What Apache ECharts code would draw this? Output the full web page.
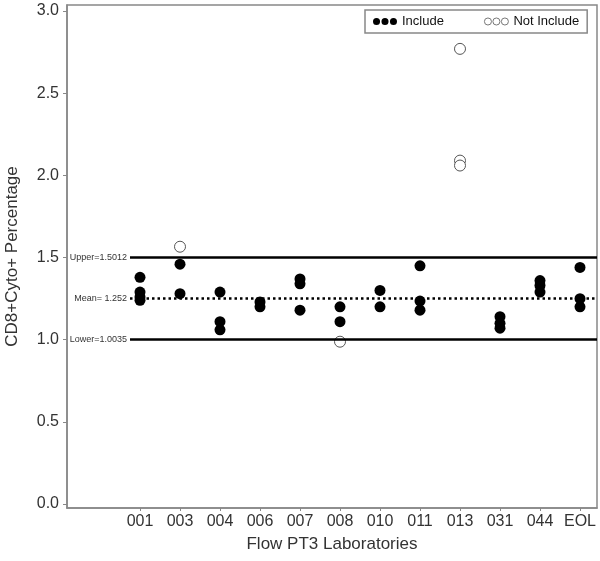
<!DOCTYPE html>
<html>
<head>
<meta charset="utf-8">
<script src="https://cdn.jsdelivr.net/npm/echarts@6/dist/echarts.min.js"></script>
<style>html,body{margin:0;padding:0;background:#fff}#c{width:600px;height:561px}</style>
</head>
<body>
<div id="c"></div>
<script>
var labs = ['001','003','004','006','007','008','010','011','013','031','044','EOL'];
var includeValues = [
  [1.38, 1.29, 1.26, 1.24],
  [1.46, 1.28],
  [1.29, 1.11, 1.06],
  [1.23, 1.20],
  [1.37, 1.34, 1.18],
  [1.20, 1.11],
  [1.30, 1.20],
  [1.45, 1.235, 1.18],
  [],
  [1.14, 1.10, 1.07],
  [1.36, 1.33, 1.29],
  [1.44, 1.25, 1.20]
];
var notIncludeValues = [
  [], [1.566], [], [], [], [0.988], [], [], [2.77, 2.09, 2.06], [], [], []
];
var refLines = [
  {label: 'Upper=1.5012', value: 1.5012, type: 'solid'},
  {label: 'Mean= 1.252', value: 1.252, type: 'dotted'},
  {label: 'Lower=1.0035', value: 1.0035, type: 'solid'}
];
var yTicks = [0, 0.5, 1.0, 1.5, 2.0, 2.5, 3.0];

function toPoints(groups) {
  var out = [];
  groups.forEach(function (vals, i) {
    vals.forEach(function (v) { out.push([i + 1, v]); });
  });
  return out;
}
var xTicks = labs.map(function (_, i) { return i + 1; });
var font = 'Liberation Sans, Arial, sans-serif';
var threeDots = 'path://M0,5a5,5 0 1,0 10,0a5,5 0 1,0 -10,0ZM12,5a5,5 0 1,0 10,0a5,5 0 1,0 -10,0ZM24,5a5,5 0 1,0 10,0a5,5 0 1,0 -10,0Z';

var markData = refLines.map(function (r) {
  return [
    {coord: [0.75, r.value], name: r.label,
     lineStyle: {type: r.type === 'dotted' ? [2.5, 3] : 'solid', width: 2.5, color: '#000'}},
    {coord: [12.425, r.value]}
  ];
});

var chart = echarts.init(document.getElementById('c'), null, {renderer: 'canvas'});
chart.setOption({
  animation: false,
  textStyle: {fontFamily: font},
  grid: {left: 67, right: 3, top: 5, bottom: 53, containLabel: false, outerBoundsMode: 'none',
    show: true, borderColor: '#888', borderWidth: 1.5},
  legend: {
    left: 365, top: 10, width: 225,
    padding: [5, 8], itemGap: 40,
    borderColor: '#888', borderWidth: 1.5,
    itemWidth: 24, itemHeight: 8,
    textStyle: {fontSize: 13, color: '#111', fontFamily: font},
    data: [
      {name: 'Include', icon: threeDots},
      {name: 'Not Include', icon: threeDots, itemStyle: {borderColor: '#777', borderWidth: 1}}
    ]
  },
  xAxis: {
    type: 'value', min: -0.825, max: 12.425,
    name: 'Flow PT3 Laboratories', nameLocation: 'middle', nameGap: 28,
    nameTextStyle: {fontSize: 17, color: '#333', fontFamily: font},
    splitLine: {show: false},
    axisLine: {onZero: false, lineStyle: {color: '#888', width: 1.5}},
    axisTick: {show: true, length: 3, customValues: xTicks, lineStyle: {color: '#888'}},
    axisLabel: {customValues: xTicks, fontSize: 16, color: '#333', margin: 6,
      formatter: function (v) { return labs[Math.round(v) - 1] || ''; }}
  },
  yAxis: {
    type: 'value', min: -0.024, max: 3.037,
    name: 'CD8+Cyto+ Percentage', nameLocation: 'middle', nameGap: 46,
    nameTextStyle: {fontSize: 17, color: '#333', fontFamily: font},
    splitLine: {show: false},
    axisLine: {show: true, onZero: false, lineStyle: {color: '#888', width: 1.5}},
    axisTick: {show: true, length: 4, customValues: yTicks, lineStyle: {color: '#888'}},
    axisLabel: {customValues: yTicks, fontSize: 16, color: '#333', margin: 8,
      formatter: function (v) { return v.toFixed(1); }}
  },
  series: [
    {
      name: 'Include', type: 'scatter', symbol: 'circle', symbolSize: 11,
      itemStyle: {color: '#000', opacity: 1},
      data: toPoints(includeValues),
      z: 3,
      markLine: {
        silent: true, symbol: 'none',
        label: {show: true, position: 'start', distance: 3, fontSize: 9, color: '#333',
          fontFamily: font, formatter: function (p) { return p.name; }},
        data: markData
      }
    },
    {
      name: 'Not Include', type: 'scatter', symbol: 'circle', symbolSize: 11,
      itemStyle: {color: '#fff', borderColor: '#555', borderWidth: 1, opacity: 1},
      data: toPoints(notIncludeValues),
      z: 4
    }
  ]
});
</script>
</body>
</html>
